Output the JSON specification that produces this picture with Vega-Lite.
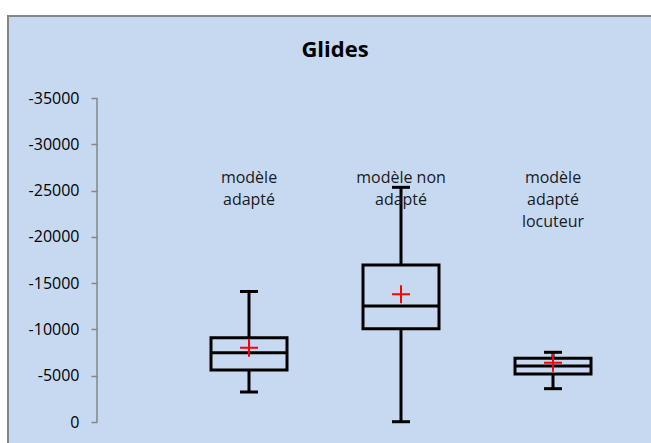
{
  "$schema": "https://vega.github.io/schema/vega-lite/v6.json",
  "autosize": {"type": "none"},
  "padding": {"left": 8, "top": 16, "right": -3, "bottom": -3},
  "width": 646,
  "height": 430,
  "background": "#ffffff",
  "config": {
    "view": {"fill": "#c6d9f1", "stroke": "#868686", "strokeWidth": 2},
    "font": "Open Sans"
  },
  "title": {
    "text": "Glides",
    "fontSize": 22,
    "fontWeight": "bold",
    "font": "Open Sans",
    "color": "#000000",
    "anchor": "middle",
    "frame": "group",
    "offset": -63,
    "baseline": "alphabetic",
    "dx": 4
  },
  "data": {
    "values": [
      {"modele": "modèle adapté", "label": "modèle\nadapté", "lo": -14100, "q1": -9100, "med": -7480, "q3": -5620, "hi": -3240, "mean": -8020},
      {"modele": "modèle non adapté", "label": "modèle non\nadapté", "lo": -25350, "q1": -16950, "med": -12530, "q3": -10080, "hi": -30, "mean": -13790},
      {"modele": "modèle adapté locuteur", "label": "modèle\nadapté\nlocuteur", "lo": -7530, "q1": -6880, "med": -6050, "q3": -5180, "hi": -3600, "mean": -6400}
    ]
  },
  "encoding": {
    "x": {
      "field": "modele",
      "type": "nominal",
      "scale": {"type": "point", "domain": ["", "modèle adapté", "modèle non adapté", "modèle adapté locuteur"], "range": [89, 545], "padding": 0},
      "axis": null
    }
  },
  "layer": [
    {
      "mark": {"type": "rule", "color": "#000000", "strokeWidth": 3},
      "encoding": {
        "y": {
          "field": "lo",
          "type": "quantitative",
          "scale": {"domain": [-35000, 0], "range": [82, 406], "nice": false, "zero": false},
          "axis": {
            "title": null,
            "values": [-35000, -30000, -25000, -20000, -15000, -10000, -5000, 0],
            "labelExpr": "datum.value + ''",
            "offset": -89,
            "grid": false,
            "domain": false,
            "tickColor": "#868686",
            "tickWidth": 1.5,
            "tickSize": 6,
            "labelFont": "Open Sans",
            "labelFontSize": 16,
            "labelColor": "#000000",
            "labelPadding": 12
          }
        },
        "y2": {"field": "q1"}
      }
    },
    {
      "data": {"values": [{"modele": "", "debut": -35000, "fin": 0}]},
      "mark": {"type": "rule", "color": "#868686", "strokeWidth": 1.5},
      "encoding": {
        "y": {"field": "debut", "type": "quantitative"},
        "y2": {"field": "fin"}
      }
    },
    {
      "mark": {"type": "rule", "color": "#000000", "strokeWidth": 3},
      "encoding": {
        "y": {"field": "q3", "type": "quantitative"},
        "y2": {"field": "hi"}
      }
    },
    {
      "mark": {"type": "tick", "color": "#000000", "size": 18, "thickness": 3, "opacity": 1},
      "encoding": {"y": {"field": "lo", "type": "quantitative"}}
    },
    {
      "mark": {"type": "tick", "color": "#000000", "size": 18, "thickness": 3, "opacity": 1},
      "encoding": {"y": {"field": "hi", "type": "quantitative"}}
    },
    {
      "mark": {"type": "bar", "size": 76, "fillOpacity": 0, "stroke": "#000000", "strokeWidth": 3},
      "encoding": {
        "y": {"field": "q1", "type": "quantitative"},
        "y2": {"field": "q3"}
      }
    },
    {
      "mark": {"type": "tick", "color": "#000000", "size": 76, "thickness": 3, "opacity": 1},
      "encoding": {"y": {"field": "med", "type": "quantitative"}}
    },
    {
      "mark": {"type": "point", "shape": "M-1,0H1M0,-1V1", "size": 324, "filled": false, "stroke": "#ff0000", "strokeWidth": 2, "opacity": 1},
      "encoding": {"y": {"field": "mean", "type": "quantitative"}}
    },
    {
      "mark": {"type": "text", "baseline": "top", "align": "center", "fontSize": 16, "lineHeight": 22, "lineBreak": "\n", "color": "#1a1a1a", "font": "Open Sans"},
      "encoding": {
        "y": {"datum": -27200, "type": "quantitative"},
        "text": {"field": "label"}
      }
    }
  ]
}
